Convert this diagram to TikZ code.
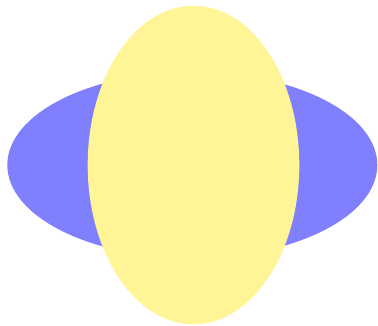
\documentclass[tikz,border=0pt]{standalone}
\definecolor{paleyellow}{RGB}{255,245,150}
\begin{document}
\begin{tikzpicture}[x=1pt, y=-1pt]
    \useasboundingbox (0,0) rectangle (378,325);

    % Horizontal ellipse behind
    \fill[blue!50] (192.3,165) ellipse [x radius=185, y radius=93];

    % Vertical ellipse in front
    \fill[paleyellow] (193.5,165) ellipse [x radius=105.8, y radius=159.3];

\end{tikzpicture}
\end{document}
